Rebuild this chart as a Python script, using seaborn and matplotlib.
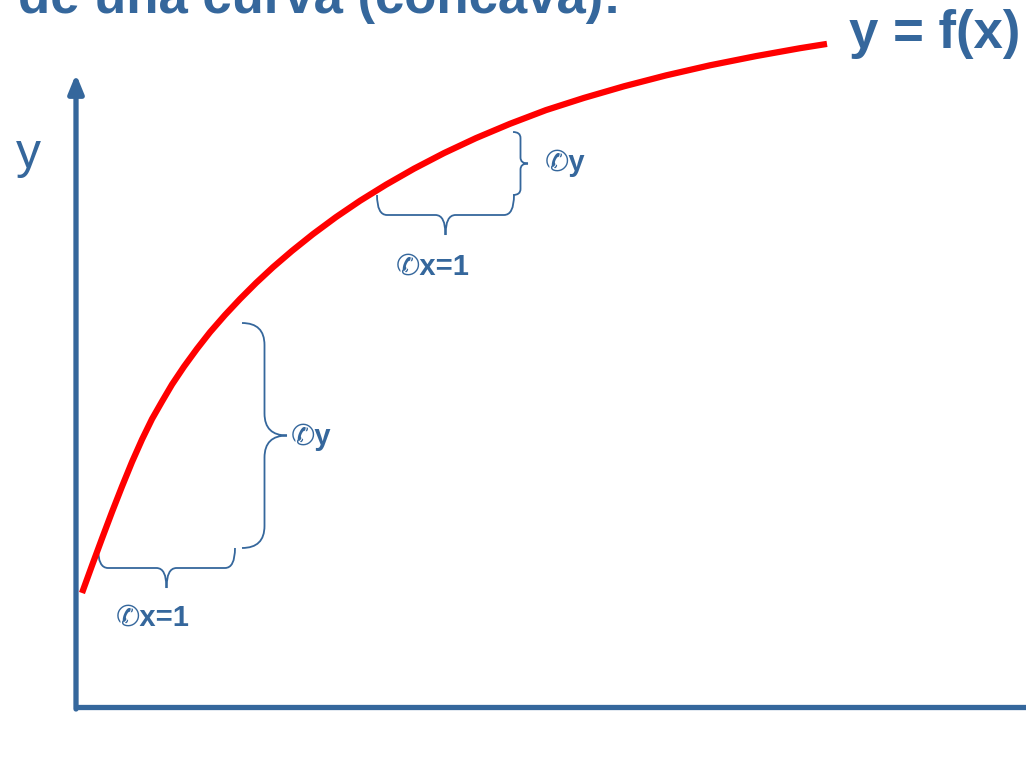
import numpy as np
import pandas as pd
import matplotlib.pyplot as plt
from matplotlib.path import Path
from matplotlib.patches import PathPatch
import seaborn as sns

# curve (pixel-like units, y grows downward)
curve_x = [82, 92, 102, 112, 122, 132, 142, 152, 162, 172, 184, 197, 210, 225, 240, 256, 273,
           292, 313, 336, 360, 386, 414, 444, 476, 510, 546, 584, 624, 666, 710, 756, 800, 827]
curve_y = [593, 565.5, 538.5, 512, 486.5, 462, 439.5, 419, 401.5, 384.5, 366.6, 348.8, 332.2,
           315, 299, 283, 267.2, 250.9, 234.1, 217.1, 200.8, 184.7, 168.7, 153.1, 138.1, 123.8,
           110.1, 97.9, 86.3, 75.4, 65.3, 56.1, 48.2, 43.9]

title_text = "de una curva (cóncava):"
func_label = "y = f(x)"
axis_label = "y"
dy_label = "\u2706y"
dx_label = "\u2706x=1"

BLUE = "#35679c"
RED = "#ff0000"
FAM = ["Liberation Sans", "DejaVu Sans"]

sns.set_style("white")
plt.rcParams["font.family"] = FAM

fig = plt.figure(figsize=(10.26, 7.71), dpi=100)
ax = fig.add_axes([0, 0, 1, 1])


def brace(ax, p0, p1, depth, tip_side, r=10):
    p0 = np.array(p0, float)
    p1 = np.array(p1, float)
    L = np.linalg.norm(p1 - p0)
    eu = (p1 - p0) / L
    ev = np.array([-eu[1], eu[0]]) * tip_side
    h = depth / 2.0
    m = L / 2.0
    local = [(0, 0), (0, h), (r, h), (m - r, h), (m, h), (m, depth),
             (m, h), (m + r, h), (L - r, h), (L, h), (L, 0)]
    codes = [Path.MOVETO, Path.CURVE3, Path.CURVE3, Path.LINETO, Path.CURVE3, Path.CURVE3,
             Path.CURVE3, Path.CURVE3, Path.LINETO, Path.CURVE3, Path.CURVE3]
    verts = [p0 + u * eu + v * ev for u, v in local]
    ax.add_patch(PathPatch(Path(verts, codes), fill=False, ec=BLUE, lw=1.3))


df = pd.DataFrame({"x": curve_x, "y": curve_y})
sns.lineplot(data=df, x="x", y="y", ax=ax, color=RED, lw=4.5, sort=False,
             solid_capstyle="butt", solid_joinstyle="round")
ax.set_xlim(0, 1026)
ax.set_ylim(771, 0)
ax.axis("off")

# axes
ax.plot([76, 1030], [707, 707], color=BLUE, lw=3.8, solid_capstyle="butt")
ax.annotate("", xy=(76, 74), xytext=(76, 709),
            arrowprops=dict(arrowstyle="-|>,head_length=1.1,head_width=0.45",
                            color=BLUE, lw=3.8, shrinkA=0, shrinkB=0))

# braces
brace(ax, (98, 548), (235, 548), 40, 1)
brace(ax, (242, 323), (242, 548), 45, -1, r=22)
brace(ax, (377, 195), (514, 195), 40, 1)
brace(ax, (513, 132), (513, 195), 15, -1, r=6)

# labels
ax.text(545, 163, dy_label, color=BLUE, fontsize=21, fontweight="bold", ha="left", va="center")
ax.text(396, 267, dx_label, color=BLUE, fontsize=21, fontweight="bold", ha="left", va="center")
ax.text(291, 437, dy_label, color=BLUE, fontsize=21, fontweight="bold", ha="left", va="center")
ax.text(116, 618, dx_label, color=BLUE, fontsize=21, fontweight="bold", ha="left", va="center")

ax.text(849, 48, func_label, color=BLUE, fontsize=38, fontweight="bold", ha="left", va="baseline")
ax.text(16, 168, axis_label, color=BLUE, fontsize=36, ha="left", va="baseline")
ax.text(18, 13, title_text, color=BLUE, fontsize=38, fontweight="bold", ha="left", va="baseline")

fig.savefig("out.png", dpi=100)
